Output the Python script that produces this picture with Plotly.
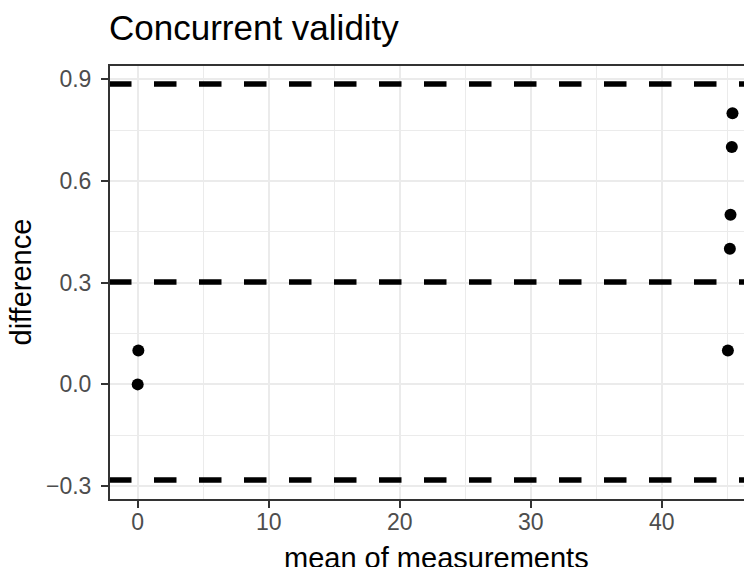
import plotly.graph_objects as go

# data
mean_measurements = [0.0, 0.05, 45.05, 45.2, 45.25, 45.35, 45.4]
differences = [0.0, 0.1, 0.1, 0.4, 0.5, 0.7, 0.8]
bias = 0.302
loa_upper = 0.886
loa_lower = -0.282
x_ticks = [0, 10, 20, 30, 40]
x_minor = [5, 15, 25, 35, 45]
y_ticks = [-0.3, 0.0, 0.3, 0.6, 0.9]
y_tick_labels = ["\u22120.3", "0.0", "0.3", "0.6", "0.9"]
y_minor = [-0.15, 0.15, 0.45, 0.75]

FONT = "Liberation Sans, Arial, sans-serif"
# the page body has an 8px margin, so the figure is drawn 8px smaller
W, H = 744, 559
L, R, T, B = 101, 0, 57, 67
PW, PH = W - L - R, H - T - B

fig = go.Figure()
fig.add_trace(go.Scatter(
    x=mean_measurements, y=differences, mode="markers",
    marker=dict(color="black", size=12, line=dict(width=0)),
    showlegend=False, cliponaxis=False,
))

for v in [loa_upper, bias, loa_lower]:
    fig.add_shape(type="line", xref="paper", x0=0, x1=1.2, yref="y", y0=v, y1=v,
                  line=dict(color="black", width=5.5, dash="22.5px,22.5px"), layer="above")

# panel border (right side falls outside the picture)
fig.add_shape(type="rect", xref="paper", yref="paper", x0=0, x1=1.2, y0=0, y1=1,
              line=dict(color="#333333", width=2), layer="above")

axis_common = dict(
    showline=False, zeroline=False, ticks="outside", ticklen=7, tickwidth=2,
    tickcolor="#333333", gridcolor="#EBEBEB", gridwidth=2,
    tickfont=dict(family=FONT, size=23, color="#4D4D4D"),
)
fig.update_xaxes(range=[-2.19, 46.89], tickvals=x_ticks, ticklabelstandoff=-6,
                 minor=dict(tickvals=x_minor, showgrid=True, gridcolor="#EBEBEB", gridwidth=1, ticks=""),
                 **axis_common)
fig.update_yaxes(range=[-0.341, 0.942], tickvals=y_ticks, ticktext=y_tick_labels, ticklabelstandoff=5,
                 minor=dict(tickvals=y_minor, showgrid=True, gridcolor="#EBEBEB", gridwidth=1, ticks=""),
                 **axis_common)

fig.add_annotation(text="mean of measurements", xref="paper", yref="paper",
                   x=(428.5 - L) / PW, y=-(550 - (H - B)) / PH,
                   xanchor="center", yanchor="middle", showarrow=False,
                   font=dict(family=FONT, size=29, color="black"))
fig.add_annotation(text="difference", xref="paper", yref="paper",
                   x=-(L - 12) / PW, y=0.5, textangle=-90,
                   xanchor="center", yanchor="middle", showarrow=False,
                   font=dict(family=FONT, size=29, color="black"))

fig.update_layout(
    width=W, height=H, margin=dict(l=L, r=R, t=T, b=B),
    paper_bgcolor="white", plot_bgcolor="white",
    title=dict(text="Concurrent validity", xref="paper", x=0, xanchor="left",
               yref="container", y=1 - 20 / H, yanchor="middle",
               font=dict(family=FONT, size=35, color="black")),
)

fig.write_html("out.html")
